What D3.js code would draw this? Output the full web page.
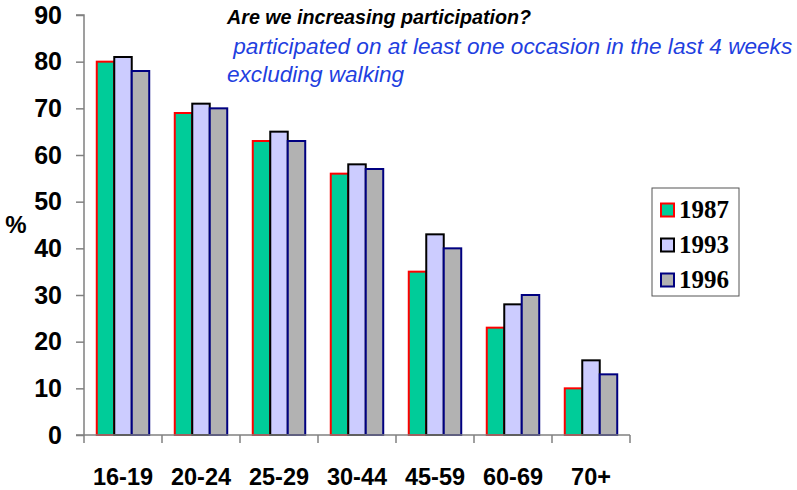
<!DOCTYPE html>
<html><head><meta charset="utf-8">
<script src="https://cdn.jsdelivr.net/npm/d3@7/dist/d3.min.js"></script>
<style>body{margin:0;background:#fff}svg{display:block}</style>
</head><body>
<svg id="chart" width="797" height="490"></svg>
<script>
const categories = ["16-19","20-24","25-29","30-44","45-59","60-69","70+"];
const years = ["1987","1993","1996"];
const values1987 = [80,69,63,56,35,23,10];
const values1993 = [81,71,65,58,43,28,16];
const values1996 = [78,70,63,57,40,30,13];
const yTicks = [0,10,20,30,40,50,60,70,80,90];
const fills = ["#00CC99","#CCCCFF","#B2B2B2"];
const strokes = ["#FF0000","#000000","#000080"];

const series = [values1987, values1993, values1996];
const svg = d3.select("#chart");
const x0 = 84, x1 = 630, yBottom = 435, yTop = 15;
const font = "Arial, 'Liberation Sans', sans-serif";

const x = d3.scaleBand().domain(categories).range([x0, x1]).paddingInner(0).paddingOuter(0);
const xs = d3.scaleBand().domain(years).range([0, x.bandwidth()]).paddingInner(0).paddingOuter(0.73);
const y = d3.scaleLinear().domain([0,90]).range([yBottom, yTop]);

// bars
categories.forEach((c, i) => {
  years.forEach((yr, j) => {
    const v = series[j][i];
    svg.append("rect")
      .attr("x", x(c) + xs(yr))
      .attr("y", y(v))
      .attr("width", xs.bandwidth())
      .attr("height", y(0) - y(v))
      .attr("fill", fills[j])
      .attr("stroke", strokes[j])
      .attr("stroke-width", 2);
  });
});

// y axis
const yAxis = d3.axisLeft(y).tickValues(yTicks).tickSize(8).tickPadding(14);
const gy = svg.append("g").attr("transform", `translate(${x0},0)`).call(yAxis);
gy.select(".domain").attr("stroke", "#808080").attr("stroke-width", 1.5).attr("d", `M-8,${yTop}H0V${yBottom}H-8`);
gy.selectAll(".tick line").attr("stroke", "#808080").attr("stroke-width", 1.5);
gy.selectAll(".tick text").attr("font-family", font)
  .attr("font-weight", "bold").attr("font-size", 25).attr("fill", "#000");

// x axis
const gx = svg.append("g").attr("transform", `translate(0,${yBottom})`);
gx.append("line").attr("x1", x0).attr("x2", x1).attr("y1", 0).attr("y2", 0)
  .attr("stroke", "#808080").attr("stroke-width", 1.5);
const bounds = categories.map(c => x(c)).concat([x1]);
gx.selectAll("line.b").data(bounds).enter().append("line")
  .attr("x1", d => d).attr("x2", d => d).attr("y1", 0).attr("y2", 8)
  .attr("stroke", "#808080").attr("stroke-width", 1.5);
gx.selectAll("text").data(categories).enter().append("text")
  .attr("x", d => x(d) + x.bandwidth() / 2)
  .attr("y", 50)
  .attr("text-anchor", "middle")
  .attr("font-family", font)
  .attr("font-weight", "bold").attr("font-size", 23.5)
  .text(d => d);

// y label
svg.append("text").attr("x", 16).attr("y", 233).attr("text-anchor", "middle")
  .attr("font-family", font)
  .attr("font-weight", "bold").attr("font-size", 24).text("%");

// titles
svg.append("text").attr("x", 227).attr("y", 24)
  .attr("font-family", font)
  .attr("font-weight", "bold").attr("font-style", "italic").attr("font-size", 19.7)
  .text("Are we increasing participation?");
svg.append("text").attr("x", 227).attr("y", 54).attr("xml:space", "preserve")
  .attr("font-family", font)
  .attr("font-style", "italic").attr("font-size", 22.6).attr("fill", "#1F3FDF")
  .text(" participated on at least one occasion in the last 4 weeks");
svg.append("text").attr("x", 227).attr("y", 82)
  .attr("font-family", font)
  .attr("font-style", "italic").attr("font-size", 22.6).attr("fill", "#1F3FDF")
  .text("excluding walking");

// legend
const lg = svg.append("g");
lg.append("rect").attr("x", 652).attr("y", 188).attr("width", 87).attr("height", 108)
  .attr("fill", "#fff").attr("stroke", "#555").attr("stroke-width", 1);
years.forEach((yr, j) => {
  const cy = 210 + j * 35;
  lg.append("rect").attr("x", 661).attr("y", cy - 6.5).attr("width", 13).attr("height", 13)
    .attr("fill", fills[j]).attr("stroke", strokes[j]).attr("stroke-width", 2);
  lg.append("text").attr("x", 679).attr("y", cy + 8)
    .attr("font-family", "'Liberation Serif', 'Times New Roman', serif")
    .attr("font-weight", "bold").attr("font-size", 25).text(yr);
});
</script>
</body></html>
